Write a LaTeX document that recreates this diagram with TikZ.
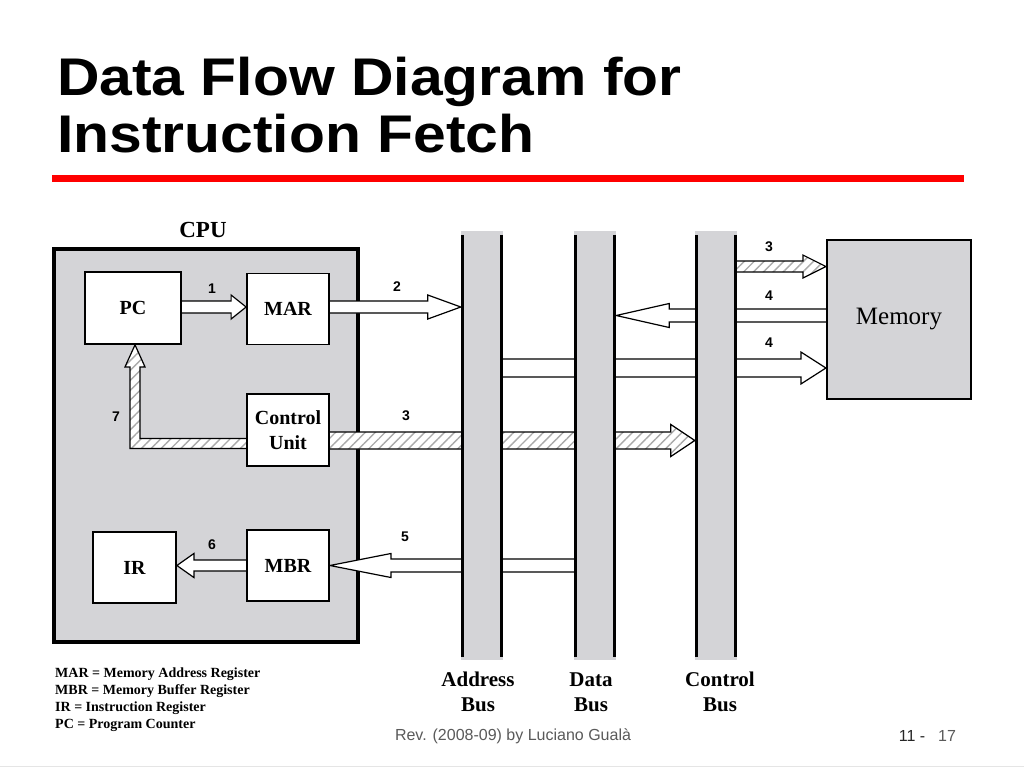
\documentclass[tikz,border=0pt]{standalone}
\usepackage{fontspec}
\usepackage{graphicx}
\setmainfont{Liberation Serif}
\newfontfamily\arial{Liberation Sans}
\usetikzlibrary{calc,patterns.meta}
\definecolor{busgray}{RGB}{212,212,215}
\definecolor{footgray}{RGB}{90,90,90}
\definecolor{hatchgray}{RGB}{170,170,170}
\pgfdeclarelayer{back}
\pgfdeclarelayer{mid}
\pgfsetlayers{back,mid,main}
\tikzset{
  regbox/.style={draw, line width=1.8pt, fill=white, inner sep=0pt, align=center,
    font=\bfseries\fontsize{20}{25}\selectfont},
  busfill/.style={fill=busgray, draw=none, inner sep=0pt, minimum width=42pt, minimum height=429pt},
  busline/.style={line width=3pt, black},
  arrowline/.style={draw=black, line width=1.2pt, fill=white, line join=miter},
  hatched/.style={arrowline, preaction={fill=white},
    pattern={Lines[angle=45,distance=7pt,line width=1.4pt]}, pattern color=hatchgray},
  numlabel/.style={font=\arial\bfseries\fontsize{14}{16}\selectfont, inner sep=0pt},
  buslabel/.style={font=\bfseries\fontsize{21}{25}\selectfont, align=center, inner sep=0pt},
  titletext/.style={anchor=base west, inner sep=0pt, font=\arial\bfseries\fontsize{53}{60}\selectfont},
}
% #1 style, #2 tail, #3 tip, #4 shaft half-height, #5 head half-height, #6 head length
\newcommand\blockarrow[6][]{%
  \path ($(#3)!#6pt!(#2)$) coordinate (babase);
  \draw[arrowline,#1] ($(#2)+(0,#4)$) -- ($(babase)+(0,#4)$) -- ($(babase)+(0,#5)$) -- (#3)
    -- ($(babase)+(0,-#5)$) -- ($(babase)+(0,-#4)$) -- ($(#2)+(0,-#4)$);
}
\begin{document}
\begin{tikzpicture}[x=1pt,y=-1pt]
\useasboundingbox (0,0) rectangle (1024,768);
\begin{pgfonlayer}{back}
\fill[white] (0,0) rectangle (1024,768);
\node[draw, line width=4pt, fill=busgray, minimum width=304pt, minimum height=393pt, inner sep=0pt] (cpu) at (206,445.5) {};
\end{pgfonlayer}

% title
\node[titletext] (t1) at (57,95) {\scalebox{1.11}[1]{Data Flow Diagram for}};
\node[titletext] (t2) at (57,152) {\scalebox{1.11}[1]{Instruction Fetch}};
\fill[red] (52,175) rectangle (964,182);

% CPU label
\node[font=\bfseries\fontsize{23}{25}\selectfont, inner sep=0pt] (cpulabel) at (203,230) {CPU};

% registers
\node[regbox, minimum width=96pt, minimum height=72pt] (pc) at (133,308) {PC};
\node[regbox, minimum width=82pt, minimum height=71pt] (mar) at (288,309) {MAR};
\node[regbox, minimum width=82pt, minimum height=72pt] (cu) at (288,430) {Control\\Unit};
\node[regbox, minimum width=83pt, minimum height=71pt] (ir) at (134.5,567.5) {IR};
\node[regbox, minimum width=82pt, minimum height=71pt] (mbr) at (288,565.5) {MBR};

% memory
\node[draw, line width=2.2pt, fill=busgray, minimum width=144pt, minimum height=159pt, inner sep=0pt,
  font=\fontsize{25}{28}\selectfont] (mem) at (899,319.5) {\raisebox{-5pt}{Memory}};

% buses
\node[busfill] (abus) at (482,445.5) {};
\node[busfill] (dbus) at (595,445.5) {};
\node[busfill] (cbus) at (716,445.5) {};
\foreach \b in {abus,dbus,cbus}{
  \draw[busline] ($(\b.north west)+(1.5,4)$) -- ($(\b.south west)+(1.5,-3)$);
  \draw[busline] ($(\b.north east)+(-1.5,4)$) -- ($(\b.south east)+(-1.5,-3)$);
}

% level coordinates
\coordinate (y1) at (0,307);
\coordinate (y3) at (0,440.5);
\coordinate (y3m) at (0,266.5);
\coordinate (y4a) at (0,315.5);
\coordinate (y4b) at (0,368);
\coordinate (y5) at (0,565.5);

\coordinate (a1s) at (pc.east |- y1);
\coordinate (a1e) at (mar.west |- y1);
\coordinate (a2s) at (mar.east |- y1);
\coordinate (a2e) at (abus.west |- y1);
\coordinate (a3s) at (cu.east |- y3);
\coordinate (a3e) at (cbus.west |- y3);
\coordinate (a3ms) at (cbus.east |- y3m);
\coordinate (a3me) at (mem.west |- y3m);
\coordinate (a4as) at (mem.west |- y4a);
\coordinate (a4ae) at (dbus.east |- y4a);
\coordinate (a4bs) at (abus.east |- y4b);
\coordinate (a4be) at (mem.west |- y4b);
\coordinate (a5s) at (dbus.west |- y5);
\coordinate (a5e) at (mbr.east |- y5);
\coordinate (a6s) at (mbr.west |- y5);
\coordinate (a6e) at (ir.east |- y5);
\coordinate (a7s) at ($(cu.west)+(0,13.5)$);
\coordinate (a7t) at ($(pc.south)+(2,0)$);

\begin{pgfonlayer}{mid}
\blockarrow{a1s}{a1e}{6}{12}{15}
\blockarrow{a2s}{a2e}{6}{12}{33}
\blockarrow[hatched]{a3s}{a3e}{8.5}{16}{24}
\blockarrow[hatched]{a3ms}{a3me}{5.5}{11.5}{23}
\blockarrow{a4as}{a4ae}{6.5}{12}{53}
\blockarrow{a4bs}{a4be}{9}{16}{25}
\blockarrow{a5s}{a5e}{6.5}{12}{61}
\blockarrow{a6s}{a6e}{5.5}{12}{17}
\draw[hatched] ($(a7s)+(0,-5)$) -- ($(a7t |- a7s)+(5,-5)$) -- ($(a7t)+(5,22)$) -- ($(a7t)+(10,22)$)
  -- (a7t) -- ($(a7t)+(-10,22)$) -- ($(a7t)+(-5,22)$) -- ($(a7t |- a7s)+(-5,5)$) -- ($(a7s)+(0,5)$);
\end{pgfonlayer}

% arrow labels
\node[numlabel] (n1) at (212,289) {1};
\node[numlabel] (n2) at (397,287) {2};
\node[numlabel] (n3) at (406,416) {3};
\node[numlabel] (n7) at (116,417) {7};
\node[numlabel] (n5) at (405,537) {5};
\node[numlabel] (n6) at (212,545) {6};
\node[numlabel] (n3m) at (769,247) {3};
\node[numlabel] (n4a) at (769,296) {4};
\node[numlabel] (n4b) at (769,343) {4};

% bus labels
\node[buslabel] (la) at (478,692) {Address\\Bus};
\node[buslabel] (ld) at (591,692) {Data\\Bus};
\node[buslabel] (lc) at (720,692) {Control\\Bus};

% legend
\node[anchor=west, align=left, inner sep=0pt, font=\bfseries\fontsize{14}{17}\selectfont] (legend) at (55,699.5)
  {MAR = Memory Address Register\\MBR = Memory Buffer Register\\IR = Instruction Register\\PC = Program Counter};

% footer
\node[font=\arial\fontsize{16}{18}\selectfont, text=footgray, inner sep=0pt] (rev) at (513,736) {Rev. (2008-09) by Luciano Gualà};
\node[font=\arial\fontsize{16}{18}\selectfont, text=black!85, inner sep=0pt] (pg1) at (912,736) {11 -};
\node[font=\arial\fontsize{16}{18}\selectfont, text=footgray, inner sep=0pt] (pg2) at (947,736) {17};
\draw[black!10, line width=1pt] (0,766) -- (1024,766);
\end{tikzpicture}
\end{document}
